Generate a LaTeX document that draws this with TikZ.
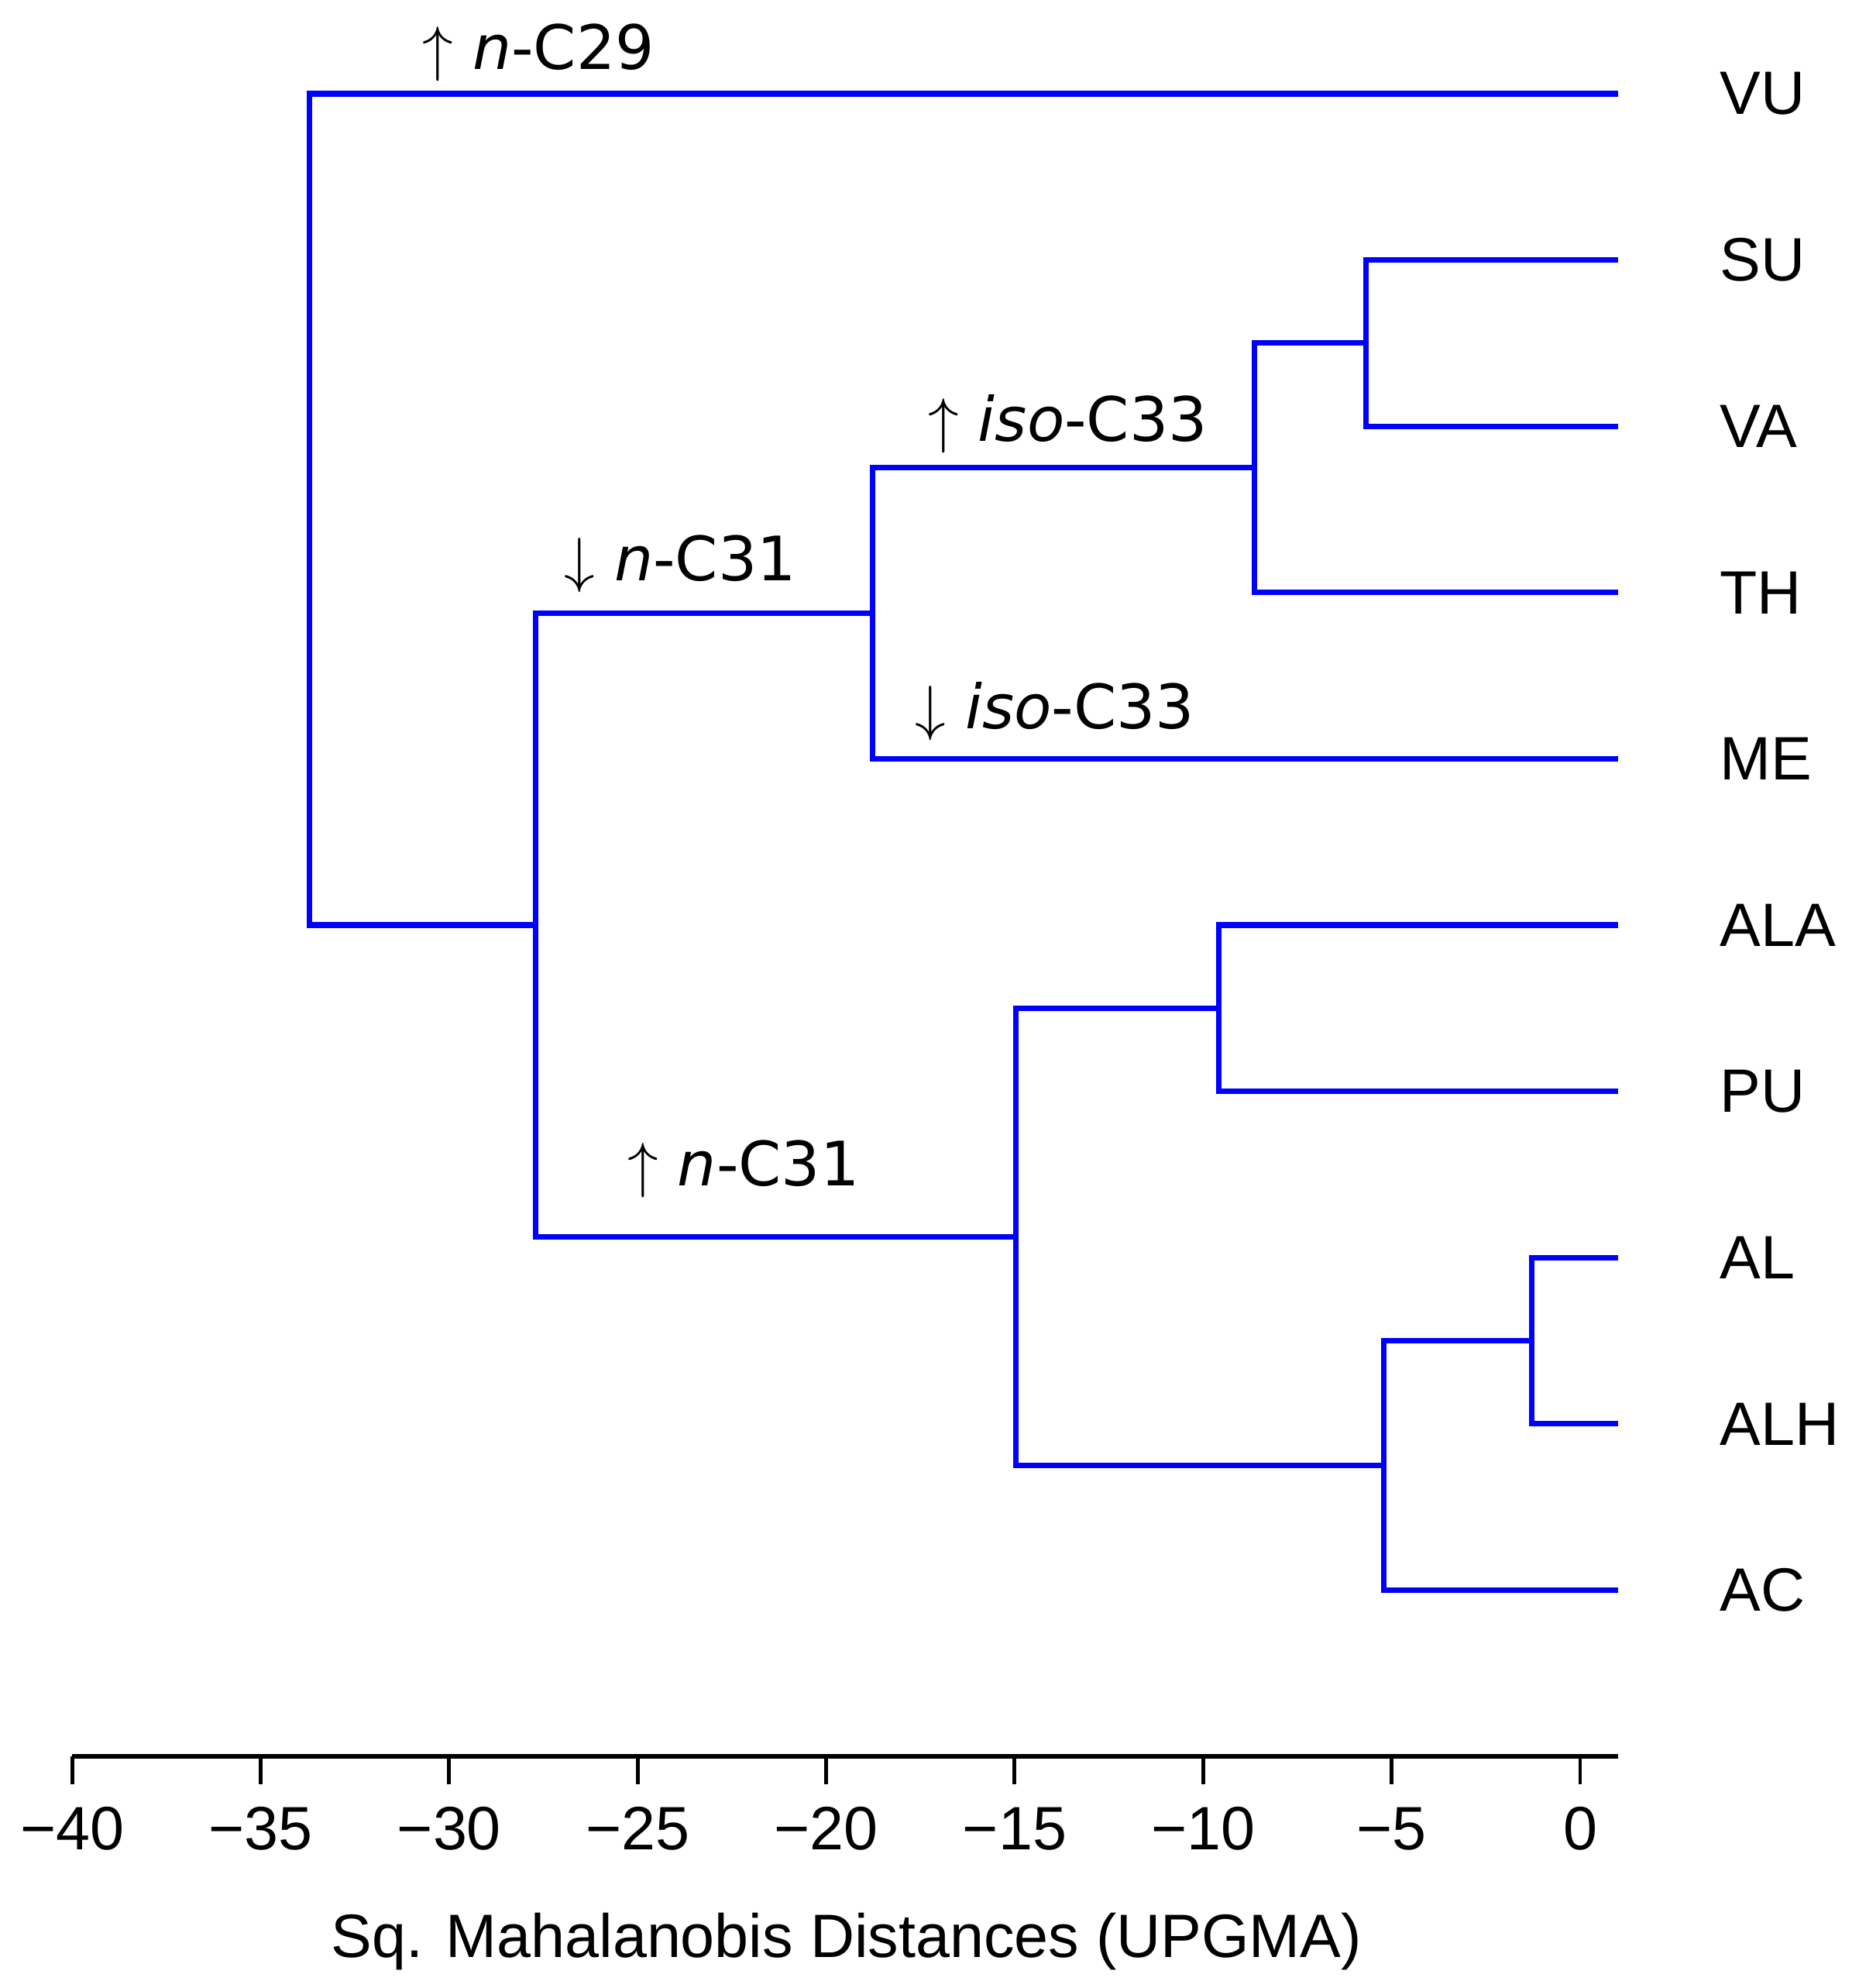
\RequirePackage{fix-cm}
\documentclass[tikz,border=0pt]{standalone}
\usepackage{fontspec}
\setmainfont{Liberation Sans}
\newfontfamily\annfont{DejaVu Sans}[ItalicFont={DejaVu Sans Oblique}]
\usepackage{xcolor}
\definecolor{tree}{HTML}{0000FF}
\usetikzlibrary{positioning}

\begin{document}
\begin{tikzpicture}[x=0.4867cm, y=-2.146cm,
  branch/.style={draw=tree, line width=2pt, line join=miter},
  leaf/.style={inner sep=0pt, font=\fontsize{22.5}{27}\selectfont},
  change/.style={inner sep=0pt, anchor=base west, font=\annfont\fontsize{22.5}{27}\selectfont},
  axisline/.style={draw=black, line width=1.7pt},
  axistick/.style={draw=black, line width=1.4pt},
  ticklabel/.style={inner sep=0pt, anchor=base, font=\fontsize{22.5}{27}\selectfont}]

  \useasboundingbox (-20.40cm,1.21cm) rectangle (3.60cm,-24.45cm);

  % Leaf tips (distance 1, one row per sample)
  \coordinate (VU)  at (1,0);
  \coordinate (SU)  at (1,1);
  \coordinate (VA)  at (1,2);
  \coordinate (TH)  at (1,3);
  \coordinate (ME)  at (1,4);
  \coordinate (ALA) at (1,5);
  \coordinate (PU)  at (1,6);
  \coordinate (AL)  at (1,7);
  \coordinate (ALH) at (1,8);
  \coordinate (AC)  at (1,9);

  % Leaf labels
  \node[leaf, right=1.31cm of VU]  (lVU)  {VU};
  \node[leaf, right=1.31cm of SU]  (lSU)  {SU};
  \node[leaf, right=1.31cm of VA]  (lVA)  {VA};
  \node[leaf, right=1.31cm of TH]  (lTH)  {TH};
  \node[leaf, right=1.31cm of ME]  (lME)  {ME};
  \node[leaf, right=1.31cm of ALA] (lALA) {ALA};
  \node[leaf, right=1.31cm of PU]  (lPU)  {PU};
  \node[leaf, right=1.31cm of AL]  (lAL)  {AL};
  \node[leaf, right=1.31cm of ALH] (lALH) {ALH};
  \node[leaf, right=1.31cm of AC]  (lAC)  {AC};

  % Joins (UPGMA heights)
  \coordinate (SUVA)    at (-5.68,1.5);
  \coordinate (SUVATH)  at (-8.64,2.25);
  \coordinate (upper)   at (-18.76,3.125);
  \coordinate (ALAPU)   at (-9.58,5.5);
  \coordinate (ALALH)   at (-1.28,7.5);
  \coordinate (ALALHAC) at (-5.21,8.25);
  \coordinate (lower)   at (-14.96,6.875);
  \coordinate (inner)   at (-27.7,5);
  \coordinate (root)    at (-33.71,2.5);

  % Branches
  \draw[branch] (SU) -| (SUVA) |- (VA);
  \draw[branch] (SUVA) -| (SUVATH) |- (TH);
  \draw[branch] (SUVATH) -| (upper) |- (ME);
  \draw[branch] (ALA) -| (ALAPU) |- (PU);
  \draw[branch] (AL) -| (ALALH) |- (ALH);
  \draw[branch] (ALALH) -| (ALALHAC) |- (AC);
  \draw[branch] (ALAPU) -| (lower) |- (ALALHAC);
  \draw[branch] (upper) -| (inner) |- (lower);
  \draw[branch] (VU) -| (root) |- (inner);

  % Compound changes on branches
  \node[change] (cVU)    at (-30.72,-0.145) {$\uparrow$ \textit{n}-C29};
  \node[change] (cupper) at (-26.96,2.927)  {$\downarrow$ \textit{n}-C31};
  \node[change] (cSUVA)  at (-17.31,2.088)  {$\uparrow$ \textit{iso}-C33};
  \node[change] (cME)    at (-17.65,3.819)  {$\downarrow$ \textit{iso}-C33};
  \node[change] (clower) at (-25.28,6.57)   {$\uparrow$ \textit{n}-C31};

  % Distance axis
  \coordinate (axL) at (-40,10);
  \coordinate (axR) at (1,10);
  \draw[axisline] (axL) -- (axR);
  \foreach \d/\t in {-40/−40,-35/−35,-30/−30,-25/−25,-20/−20,-15/−15,-10/−10,-5/−5,0/0} {
    \draw[axistick] (\d,10) -- ++(0,-0.36cm);
    \node[ticklabel] at ([yshift=-1.2cm]\d,10) {\t};
  }
  \node[ticklabel] (title) at ([yshift=-2.59cm]-19.46,10) {Sq. Mahalanobis Distances (UPGMA)};

\end{tikzpicture}
\end{document}
